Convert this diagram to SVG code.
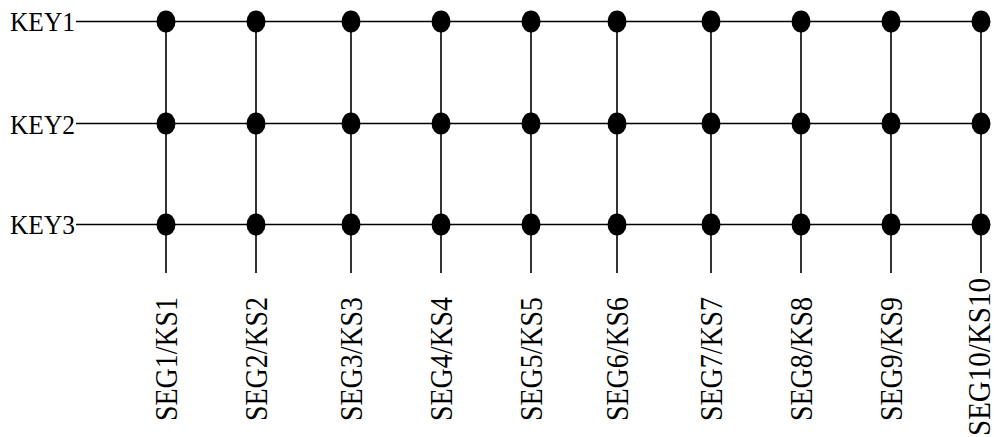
<svg xmlns="http://www.w3.org/2000/svg" width="994" height="437" viewBox="0 0 994 437">
<style>
.ln{stroke:#000;stroke-width:1.6;fill:none}
.dot{fill:#000}
.key{font-size:27px;fill:#000}
.seg{font-size:32px;fill:#000;text-anchor:middle}
</style>
<defs>
<ellipse id="d" class="dot" rx="9.5" ry="11"/>
</defs>
<rect width="994" height="437" fill="#fff"/>
<g id="connectors">
<path class="ln" d="M76 21.5H981M76 123.5H981M76 224.5H981"/>
<path class="ln" d="M166 21.5V273M256 21.5V273M351 21.5V273M441 21.5V273M531 21.5V273M617 21.5V273M711 21.5V273M801 21.5V273M891 21.5V273M981 21.5V273"/>
</g>
<g font-family="'Liberation Serif', 'Times New Roman', serif">
<g id="key1"><text class="key" x="10" y="30.5" textLength="65" lengthAdjust="spacingAndGlyphs">KEY1</text></g>
<g id="key2"><text class="key" x="10" y="133.5" textLength="65" lengthAdjust="spacingAndGlyphs">KEY2</text></g>
<g id="key3"><text class="key" x="10" y="233.5" textLength="65" lengthAdjust="spacingAndGlyphs">KEY3</text></g>
</g>
<g id="dots-key1">
<use href="#d" x="166" y="21.5"/><use href="#d" x="256" y="21.5"/><use href="#d" x="351" y="21.5"/><use href="#d" x="441" y="21.5"/><use href="#d" x="531" y="21.5"/><use href="#d" x="617" y="21.5"/><use href="#d" x="711" y="21.5"/><use href="#d" x="801" y="21.5"/><use href="#d" x="891" y="21.5"/><use href="#d" x="981" y="21.5"/>
</g>
<g id="dots-key2">
<use href="#d" x="166" y="123.5"/><use href="#d" x="256" y="123.5"/><use href="#d" x="351" y="123.5"/><use href="#d" x="441" y="123.5"/><use href="#d" x="531" y="123.5"/><use href="#d" x="617" y="123.5"/><use href="#d" x="711" y="123.5"/><use href="#d" x="801" y="123.5"/><use href="#d" x="891" y="123.5"/><use href="#d" x="981" y="123.5"/>
</g>
<g id="dots-key3">
<use href="#d" x="166" y="224.5"/><use href="#d" x="256" y="224.5"/><use href="#d" x="351" y="224.5"/><use href="#d" x="441" y="224.5"/><use href="#d" x="531" y="224.5"/><use href="#d" x="617" y="224.5"/><use href="#d" x="711" y="224.5"/><use href="#d" x="801" y="224.5"/><use href="#d" x="891" y="224.5"/><use href="#d" x="981" y="224.5"/>
</g>
<g font-family="'Liberation Serif', 'Times New Roman', serif">
<g id="seg1"><text class="seg" transform="translate(177 359) rotate(-90)" textLength="124" lengthAdjust="spacingAndGlyphs">SEG1/KS1</text></g>
<g id="seg2"><text class="seg" transform="translate(267 359) rotate(-90)" textLength="124" lengthAdjust="spacingAndGlyphs">SEG2/KS2</text></g>
<g id="seg3"><text class="seg" transform="translate(362 359) rotate(-90)" textLength="124" lengthAdjust="spacingAndGlyphs">SEG3/KS3</text></g>
<g id="seg4"><text class="seg" transform="translate(452 359) rotate(-90)" textLength="124" lengthAdjust="spacingAndGlyphs">SEG4/KS4</text></g>
<g id="seg5"><text class="seg" transform="translate(542 359) rotate(-90)" textLength="124" lengthAdjust="spacingAndGlyphs">SEG5/KS5</text></g>
<g id="seg6"><text class="seg" transform="translate(628 359) rotate(-90)" textLength="124" lengthAdjust="spacingAndGlyphs">SEG6/KS6</text></g>
<g id="seg7"><text class="seg" transform="translate(722 359) rotate(-90)" textLength="124" lengthAdjust="spacingAndGlyphs">SEG7/KS7</text></g>
<g id="seg8"><text class="seg" transform="translate(812 359) rotate(-90)" textLength="124" lengthAdjust="spacingAndGlyphs">SEG8/KS8</text></g>
<g id="seg9"><text class="seg" transform="translate(902 359) rotate(-90)" textLength="124" lengthAdjust="spacingAndGlyphs">SEG9/KS9</text></g>
<g id="seg10"><text class="seg" transform="translate(990 357) rotate(-90)" textLength="158" lengthAdjust="spacingAndGlyphs">SEG10/KS10</text></g>
</g>
</svg>
